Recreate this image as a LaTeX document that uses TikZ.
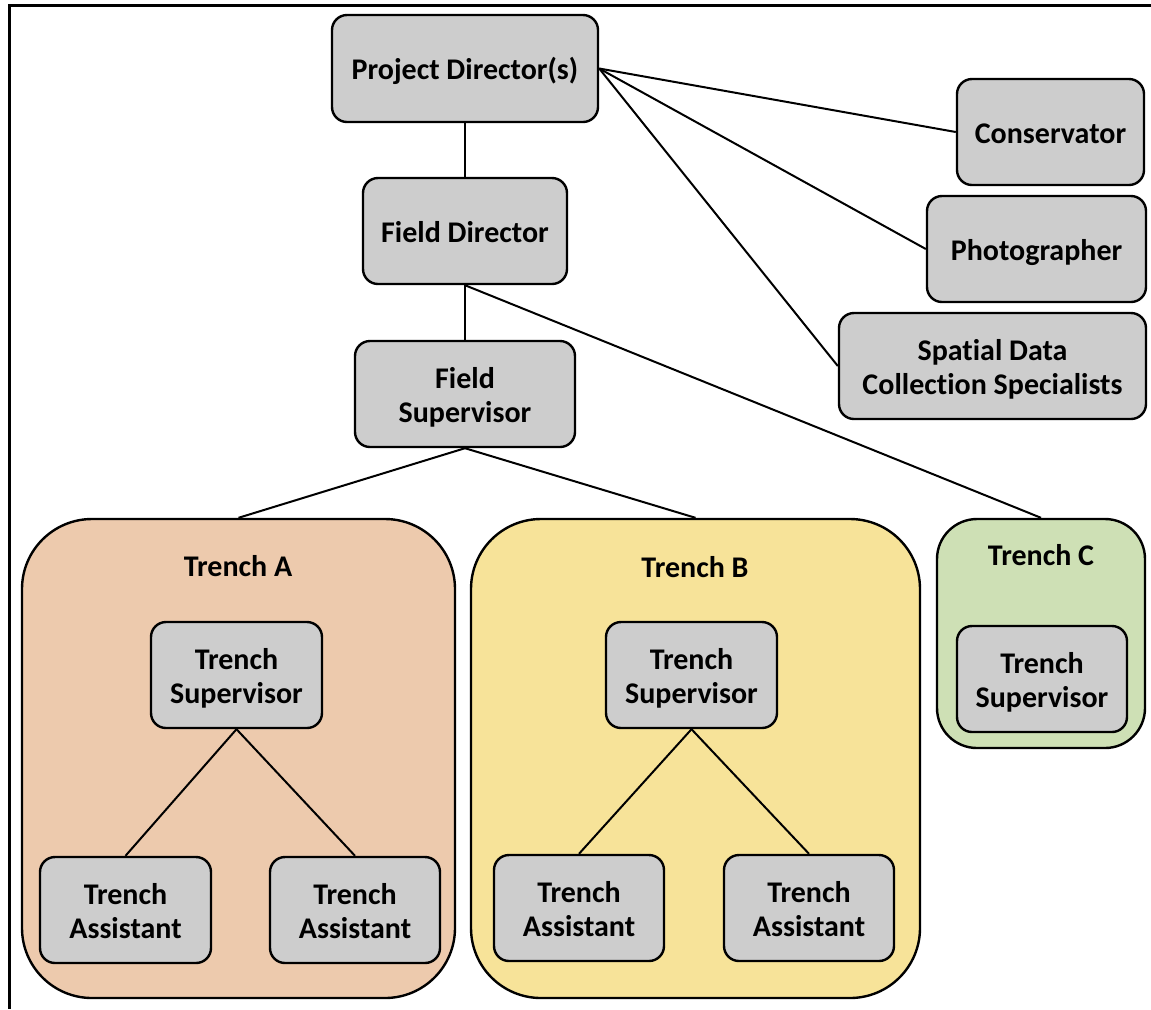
\documentclass[tikz,border=0pt]{standalone}
\usepackage{fontspec}
\setmainfont{Carlito}[Ligatures=NoCommon]
\usetikzlibrary{positioning}
\definecolor{rolegray}{RGB}{205,205,205}
\definecolor{trenchA}{RGB}{237,202,173}
\definecolor{trenchB}{RGB}{247,227,153}
\definecolor{trenchC}{RGB}{206,224,181}
\tikzset{
    role/.style={
        draw,
        line width=1.2pt,
        rounded corners=7.5pt,
        fill=rolegray,
        align=center,
        inner sep=0pt,
        font=\bfseries\fontsize{15}{17}\selectfont,
        execute at begin node=\rule{0pt}{15pt},
        execute at end node=\rule[-4pt]{0pt}{0pt}
    },
    twoline/.style={
        execute at begin node=\rule{0pt}{32pt}
    },
    trench/.style={
        draw,
        line width=1.2pt,
        inner sep=0pt
    },
    trenchtitle/.style={
        inner sep=0pt,
        font=\bfseries\fontsize{15}{17}\selectfont
    }
}

\begin{document}
\begin{tikzpicture}[
    x=0.5pt,
    y=-0.5pt,
    line width=1pt
]

    \useasboundingbox (0,0) rectangle (1151,1009);
    \draw[line width=1.5pt] (1151,5) -- (9,5) -- (9,1009);

    % Trenches
    \node[trench, fill=trenchA, rounded corners=35pt,
          minimum width=216.5pt, minimum height=239.5pt] (tra) at (238.5,758.5) {};
    \node[trench, fill=trenchB, rounded corners=35pt,
          minimum width=224.5pt, minimum height=239.5pt] (trb) at (695.5,758.5) {};
    \node[trench, fill=trenchC, rounded corners=20pt,
          minimum width=104pt, minimum height=114.5pt]   (trc) at (1041,633.5) {};

    \node[trenchtitle] (traT) at (238,566)  {Trench A};
    \node[trenchtitle] (trbT) at (695,567)  {Trench B};
    \node[trenchtitle] (trcT) at (1041,555) {Trench C};

    % Roles
    \node[role, minimum width=133pt, minimum height=53.5pt] (pd)  at (465,68.5)  {Project Director(s)};
    \node[role, minimum width=102pt, minimum height=53pt]   (fd)  at (465,231)   {Field Director};
    \node[role, twoline, minimum width=110pt, minimum height=53pt] (fs) at (465,394) {Field\\Supervisor};
    \node[role, minimum width=93.5pt, minimum height=53pt]  (con) at (1050.5,132) {Conservator};
    \node[role, minimum width=109.5pt, minimum height=53pt] (pho) at (1036.5,249) {Photographer};
    \node[role, twoline, minimum width=153.5pt, minimum height=53pt] (sdc) at (992.5,366) {Spatial Data\\Collection Specialists};

    \node[role, twoline, minimum width=85.5pt, minimum height=53pt] (tsa) at (236.5,675) {Trench\\Supervisor};
    \node[role, twoline, minimum width=85.5pt, minimum height=53pt] (tsb) at (691.5,675) {Trench\\Supervisor};
    \node[role, twoline, minimum width=85pt, minimum height=53pt]   (tsc) at (1042,679)  {Trench\\Supervisor};

    \node[role, twoline, minimum width=85.5pt, minimum height=53pt] (taa1) at (125.5,910) {Trench\\Assistant};
    \node[role, twoline, minimum width=85pt, minimum height=53pt]   (taa2) at (355,910)   {Trench\\Assistant};
    \node[role, twoline, minimum width=85pt, minimum height=53pt]   (tab1) at (579,908)   {Trench\\Assistant};
    \node[role, twoline, minimum width=85pt, minimum height=53pt]   (tab2) at (809,908)   {Trench\\Assistant};

    % Lines
    \path[draw]
        (pd)
            edge (fd)
        (pd.east)
            edge (con.west)
            edge (pho.west)
            edge (sdc.west)

        (fd)
            edge (fs)
        (fd.south)
            edge (trc.north)

        (fs.south)
            edge (tra.north)
            edge (trb.north)

        (tsa.south)
            edge (taa1.north)
            edge (taa2.north)

        (tsb.south)
            edge (tab1.north)
            edge (tab2.north);

\end{tikzpicture}
\end{document}
